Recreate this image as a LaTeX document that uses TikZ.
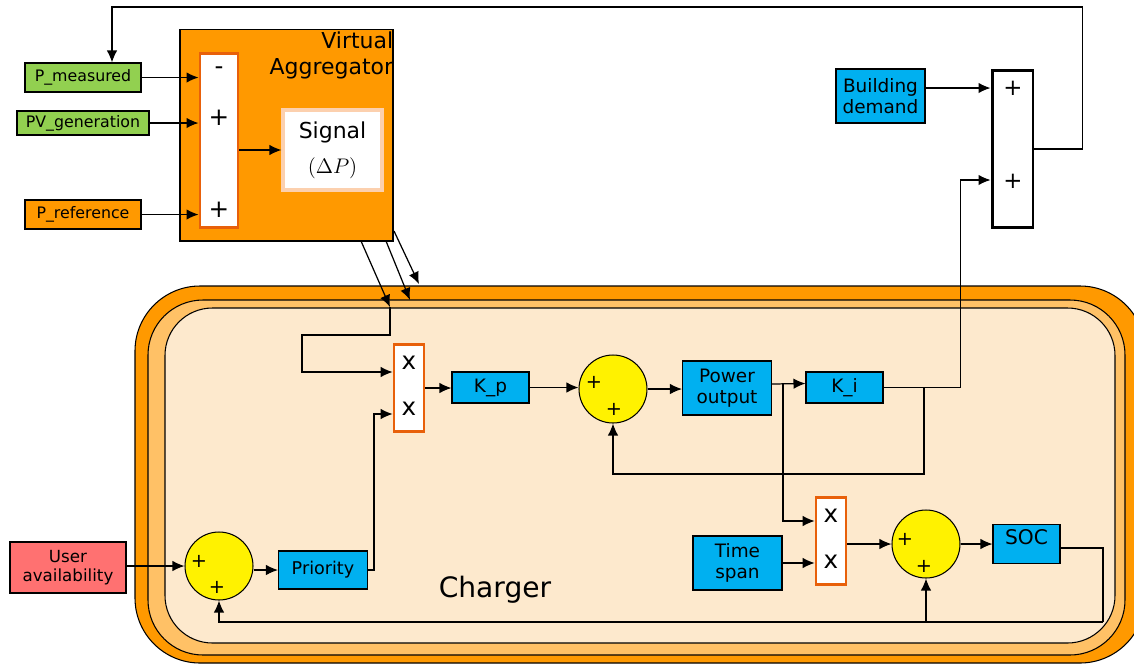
\documentclass[tikz,border=0pt]{standalone}
\usepackage{fontspec}
\setmainfont{DejaVu Sans}
\usetikzlibrary{arrows.meta}

\definecolor{aggorange}{HTML}{FF9900}
\definecolor{midorange}{HTML}{FFC166}
\definecolor{peach}{HTML}{FDE9CD}
\definecolor{signalrim}{HTML}{FCD0AE}
\definecolor{multrim}{HTML}{E8600A}
\definecolor{blkblue}{HTML}{00B0F0}
\definecolor{measgreen}{HTML}{92D050}
\definecolor{userred}{HTML}{FF7171}

\begin{document}
\begin{tikzpicture}[
    x=0.02cm, y=-0.02cm,
    every node/.style={font=\fontsize{10.5}{12}\selectfont, inner sep=1pt},
    inbox/.style={draw, line width=0.6pt, align=center, minimum width=2.32cm, minimum height=0.58cm, font=\fontsize{9}{10.5}\selectfont},
    blk/.style={draw, line width=0.6pt, fill=blkblue, align=center, minimum width=1.78cm, minimum height=1.08cm},
    gain/.style={blk, minimum width=1.54cm, minimum height=0.62cm},
    summer/.style={draw, line width=0.6pt, circle, fill=yellow, minimum size=1.36cm},
    mult/.style={draw=multrim, line width=1.5pt, fill=white, minimum width=0.6cm, minimum height=1.74cm},
    sign/.style={font=\fontsize{14}{14}\selectfont, inner sep=0pt},
    smallsign/.style={font=\fontsize{11}{11}\selectfont, inner sep=0pt},
    flow/.style={-{Latex[length=2.4mm,width=2.1mm]}, line width=0.7pt},
    wire/.style={line width=0.7pt}
]
\useasboundingbox (0,0) rectangle (1134,664);

% charger frame
\draw[line width=0.6pt, fill=aggorange, rounded corners=1.3cm] (135,286) rectangle (1145,663);
\draw[line width=0.6pt, fill=midorange, rounded corners=1.1cm] (148,300) rectangle (1125,655);
\draw[line width=0.6pt, fill=peach, rounded corners=0.95cm] (165,308) rectangle (1115,643);
\node[font=\fontsize{16}{18}\selectfont] (charger) at (495,590) {Charger};

% virtual aggregator
\node[draw, line width=0.6pt, fill=aggorange, minimum width=4.26cm, minimum height=4.24cm] (agg) at (286.5,135) {};
\node[anchor=north east, align=right, font=\fontsize{12.5}{14.5}\selectfont, inner sep=0pt] (aggtitle) at ([yshift=-0.06cm]agg.north east) {Virtual\\Aggregator};
\node[draw=multrim, line width=1.7pt, fill=white, minimum width=0.76cm, minimum height=3.5cm] (aggsum) at (219,140.5) {};
\node[sign] (s1) at (219,71) {-};
\node[sign] (s2) at (219,118) {+};
\node[sign] (s3) at (219,210) {+};
\node[draw=signalrim, line width=1.8pt, fill=white, align=center, minimum width=1.98cm, minimum height=1.6cm, font=\fontsize{12.5}{20}\selectfont] (signal) at (332.5,150) {Signal\\$(\Delta P)$};

\node[inbox, fill=measgreen] (pmeas) at (83,77.5) {P\_measured};
\node[inbox, fill=measgreen, minimum width=2.64cm, minimum height=0.48cm, inner sep=0pt] (pvgen) at (83,123) {PV\_generation};
\node[inbox, fill=aggorange] (pref) at (83,214.5) {P\_reference};

% grid side
\node[blk] (build) at (880.5,96) {Building\\demand};
\node[draw, line width=1.7pt, fill=white, minimum width=0.82cm, minimum height=3.16cm] (bigsum) at (1012.5,149) {};
\node[smallsign, font=\fontsize{13}{13}\selectfont] (b1) at (1013,88) {+};
\node[smallsign, font=\fontsize{13}{13}\selectfont] (b2) at (1013,181) {+};

% charger blocks
\node[mult] (mult1) at (409,388) {};
\node[sign] (m1a) at (409,363) {x};
\node[sign] (m1b) at (409,409) {x};
\node[gain] (kp) at (490.5,387.5) {K\_p};
\node[summer] (sumA) at (613,389) {};
\node[smallsign] (a1) at (594,382) {+};
\node[smallsign] (a2) at (614,409) {+};
\node[blk] (power) at (727,388) {Power\\output};
\node[gain] (ki) at (844.5,387.5) {K\_i};

\node[mult] (mult2) at (831,541) {};
\node[sign] (m2a) at (831,516) {x};
\node[sign] (m2b) at (831,562) {x};
\node[blk] (time) at (737.5,563) {Time\\span};
\node[summer] (sumB) at (926,544) {};
\node[smallsign] (c1) at (905,539) {+};
\node[smallsign] (c2) at (924,566) {+};
\node[blk, minimum width=1.34cm, minimum height=0.78cm, anchor=north, font=\fontsize{11.5}{12}\selectfont] (soc) at (1026.5,524) {SOC\\[-4pt]};

\node[inbox, fill=userred, minimum height=1.02cm, font=\fontsize{9.5}{11}\selectfont] (user) at (68,567.5) {User\\availability};
\node[summer] (sumC) at (219,566) {};
\node[smallsign] (u1) at (199,561) {+};
\node[smallsign] (u2) at (217,587) {+};
\node[blk, minimum height=0.76cm, font=\fontsize{10}{12}\selectfont] (prio) at (323,570) {Priority};

% junctions and free ends
\coordinate (d1s) at (361,241);
\coordinate (d1e) at (390,307);
\coordinate (d2s) at (386,241);
\coordinate (d2e) at (410,300);
\coordinate (d3s) at (394,231);
\coordinate (d3e) at (419,284);
\coordinate (tap) at (302,335);
\coordinate (ret) at (112,7);
\coordinate (br1) at (783,384);
\coordinate (br2) at (924,388);
\coordinate (fb1) at (924,474);
\coordinate (lowbus) at (1103,622);

% aggregator inputs
\draw[flow] (pmeas.east) -- (pmeas.east -| aggsum.west);
\draw[flow] (pvgen.east) -- (pvgen.east -| aggsum.west);
\draw[flow] (pref.east) -- (pref.east -| aggsum.west);
\draw[flow] (aggsum.east |- signal.west) -- (signal.west);
\draw[flow] (d1s) -- (d1e);
\draw[flow] (d2s) -- (d2e);
\draw[flow] (d3s) -- (d3e);

% charger signal path
\draw[flow] (d1e) |- (tap) |- ([yshift=0.32cm]mult1.west);
\draw[flow] (prio.east) -- ++(6,0) |- ([yshift=-0.52cm]mult1.west);
\draw[flow] (mult1.east) -- (mult1.east -| kp.west);
\draw[flow] (kp.east) -- (kp.east -| sumA.west);
\draw[flow] (sumA.east) -- (sumA.east -| power.west);
\draw[flow] ([yshift=0.08cm]power.east) -- ([yshift=0.08cm]ki.west);
\draw[flow] (br1) |- ([yshift=0.4cm]mult2.west);
\draw[flow] (ki.east) -- ++(77,0) |- ([yshift=-0.62cm]bigsum.west);
\draw[flow] (br2) -- (fb1) -| (sumA.south);
\draw[flow] (time.east) -- (time.east -| mult2.west);
\draw[flow] (mult2.east |- sumB.west) -- (sumB.west);
\draw[flow] (sumB.east) -- (sumB.east -| soc.west);
\draw[wire] ([yshift=-0.08cm]soc.east) -| (lowbus);
\draw[flow] (lowbus) -| (sumC.south);
\draw[flow] (sumB.south |- lowbus) -- (sumB.south);
\draw[flow] (user.east |- sumC.west) -- (sumC.west);
\draw[flow] (sumC.east |- prio.west) -- (prio.west);

% grid feedback
\draw[flow] (build.east |- b1) -- (b1 -| bigsum.west);
\draw[flow] (bigsum.east) -- ++(48,0) |- (ret) -- (ret |- pmeas.north);
\end{tikzpicture}
\end{document}
